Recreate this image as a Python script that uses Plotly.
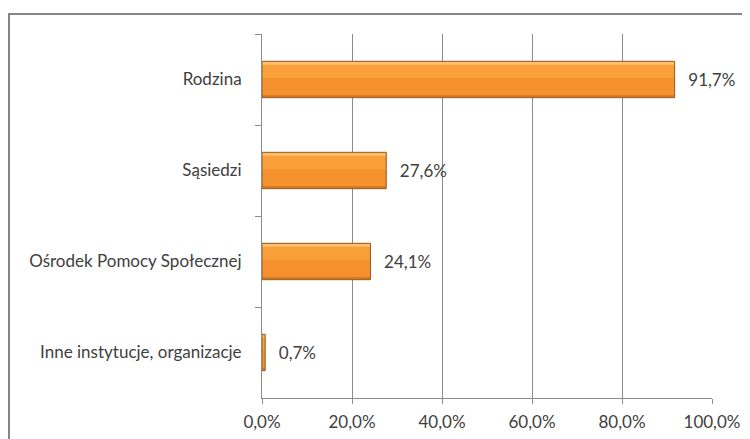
import plotly.graph_objects as go

categories = ["Rodzina", "Sąsiedzi", "Ośrodek Pomocy Społecznej", "Inne instytucje, organizacje"]
values = [0.917, 0.276, 0.241, 0.007]
x_ticks = [0, 0.2, 0.4, 0.6, 0.8, 1.0]

FONT = "Lato"
GRID = "#8c8c8c"
EDGE = "#9A5A22"

fig = go.Figure()
# layered bar shading (gradient imitation), all drawn from the same values
layers = [
    dict(width=0.40, offset=-0.20, color="#CF7623"),
    dict(width=0.37, offset=-0.197, color="#F5922D"),
    dict(width=0.18, offset=-0.197, color="#F9A03A"),
    dict(width=0.035, offset=-0.197, color="#FCC070"),
]
for L in layers:
    fig.add_trace(go.Bar(
        x=values, y=categories, orientation="h",
        width=L["width"], offset=L["offset"],
        marker=dict(color=L["color"], line=dict(width=0)),
        showlegend=False, hoverinfo="skip",
    ))
# outline + labels
fig.add_trace(go.Bar(
    x=values, y=categories, orientation="h", width=0.4, offset=-0.2,
    marker=dict(color="rgba(0,0,0,0)", line=dict(color=EDGE, width=1)),
    texttemplate="\u2002\u2009%{x:.1%}", textposition="outside",
    textfont=dict(family=FONT, size=17, color="#404040"),
    cliponaxis=False, showlegend=False, hoverinfo="skip",
))

# page body has an 8px default margin; figure sized to fill the rest of the 750x439 window
fig.update_layout(
    width=742, height=431,
    barmode="overlay",
    margin=dict(l=254, r=38, t=26, b=41),
    paper_bgcolor="white", plot_bgcolor="white",
    separators=", ",
    font=dict(family=FONT, size=17, color="#404040"),
    xaxis=dict(range=[0, 1], tickvals=x_ticks, tickformat=".1%",
               showgrid=True, gridcolor=GRID, gridwidth=1,
               showline=True, linecolor=GRID, linewidth=1,
               ticks="outside", ticklen=5, tickcolor=GRID, automargin=False,
               zeroline=False, fixedrange=True, ticklabelstandoff=4),
    yaxis=dict(categoryorder="array", categoryarray=categories,
               autorange="reversed", showline=True, linecolor=GRID, linewidth=1,
               ticks="outside", tickson="boundaries", ticklen=6, tickcolor=GRID,
               showgrid=False, ticklabelstandoff=16, automargin=False),
    shapes=[dict(type="rect", xref="paper", yref="paper",
                 xsizemode="pixel", ysizemode="pixel", xanchor=0, yanchor=1,
                 x0=-253, x1=500, y0=20, y1=-420,
                 line=dict(color="#868686", width=2), fillcolor="rgba(0,0,0,0)",
                 layer="below")],
)

fig.write_html("out.html")
